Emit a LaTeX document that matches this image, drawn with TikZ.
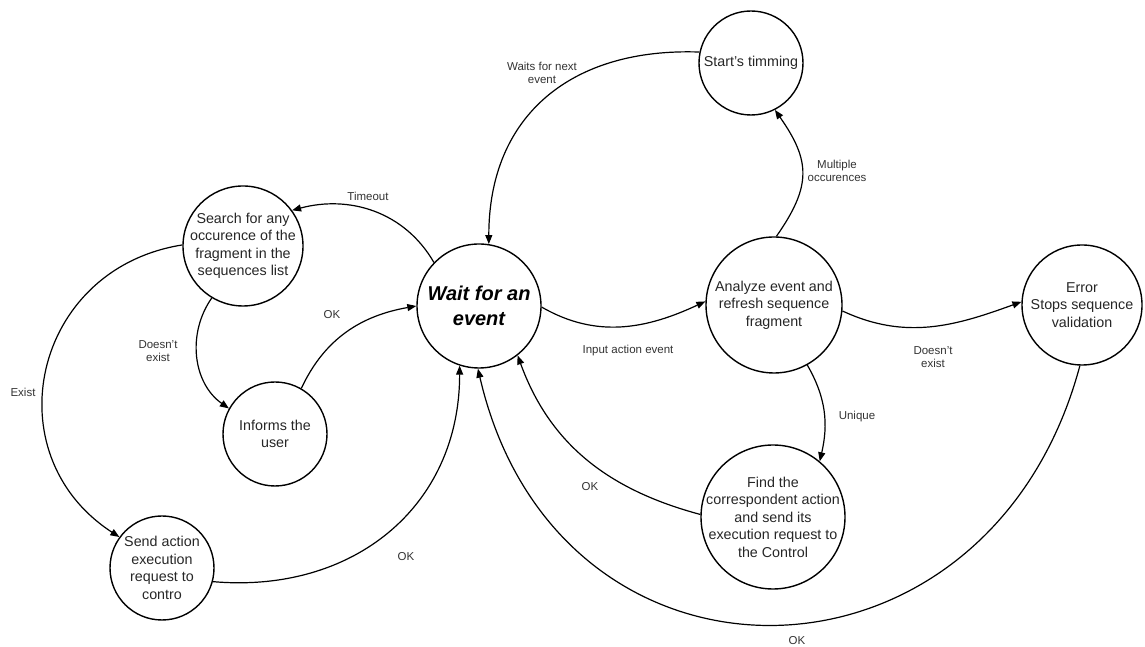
\documentclass[tikz,border=0pt]{standalone}
\usepackage{fontspec}
\setmainfont{Liberation Sans}
\usetikzlibrary{arrows.meta}
\begin{document}
\begin{tikzpicture}[x=1pt,y=1pt,
  state/.style={draw=black,circle,line width=1.4pt,inner sep=-20pt,align=center,text=black!85,
     font=\fontsize{14.3}{17.5}\selectfont},
  conn/.style={line width=1.2pt,-{Triangle[length=9pt,width=7pt]}},
  lbl/.style={align=center,text=black!80,font=\fontsize{11.5}{13.5}\selectfont,inner sep=0pt}
]
\useasboundingbox (0,0) rectangle (1145,647);
\node[state,minimum size=104pt] (start) at (751,584) {Start’s timming};
\node[state,minimum size=124pt,font=\fontsize{20}{25}\selectfont\bfseries\itshape,text=black] (wait) at (479,341) {Wait for an\\event};
\node[state,minimum size=120pt] (search) at (243,401) {Search for any\\occurence of the\\fragment in the\\sequences list};
\node[state,minimum size=104pt] (inform) at (275,213) {Informs the\\user};
\node[state,minimum size=104pt] (send) at (162,79) {Send action\\execution\\request to\\contro};
\node[state,minimum size=136pt] (analyze) at (774,342) {Analyze event and\\refresh sequence\\fragment};
\node[state,minimum size=144pt] (find) at (773,130) {Find the\\correspondent action\\and send its\\execution request to\\the Control};
\node[state,minimum size=120pt] (error) at (1082,342) {Error\\Stops sequence\\validation};

\draw[conn] (start.168) to[out=178,in=90,looseness=1.15] (wait.81);
\draw[conn] (wait.136) to[out=120,in=15] (search.36);
\draw[conn] (inform.60) to[out=65,in=190] (wait.180);
\draw[conn] (search.239) to[out=235,in=145] (inform.151);
\draw[conn] (search.179) to[out=189,in=147,looseness=1.3] (send.144);
\draw[conn] (send.-15) to[out=-5,in=-90,looseness=1.1] (wait.252);
\draw[conn] (find.178) to[out=165,in=290] (wait.308);
\draw[conn] (error.268) to[out=255,in=283,looseness=1.5] (wait.269);
\draw[conn] (wait.-1) to[out=-30,in=205] (analyze.177);
\draw[conn] (analyze.88) to[out=55,in=-55,looseness=1.25] (start.297);
\draw[conn] (analyze.-5) to[out=-25,in=200] (error.177);
\draw[conn] (analyze.299) to[out=-60,in=77] (find.50);

\node[lbl] (l1) at (542,574) {Waits for next\\event};
\node[lbl] (l2) at (368,451) {Timeout};
\node[lbl] (l3) at (332,332) {OK};
\node[lbl] (l4) at (158,296) {Doesn’t\\exist};
\node[lbl] (l5) at (23,255) {Exist};
\node[lbl] (l6) at (406,90) {OK};
\node[lbl] (l7) at (590,160) {OK};
\node[lbl] (l8) at (797,6) {OK};
\node[lbl] (l9) at (628,296) {Input action event};
\node[lbl] (l10) at (837,476) {Multiple\\occurences};
\node[lbl] (l11) at (933,290) {Doesn’t\\exist};
\node[lbl] (l12) at (857,230) {Unique};
\end{tikzpicture}
\end{document}
